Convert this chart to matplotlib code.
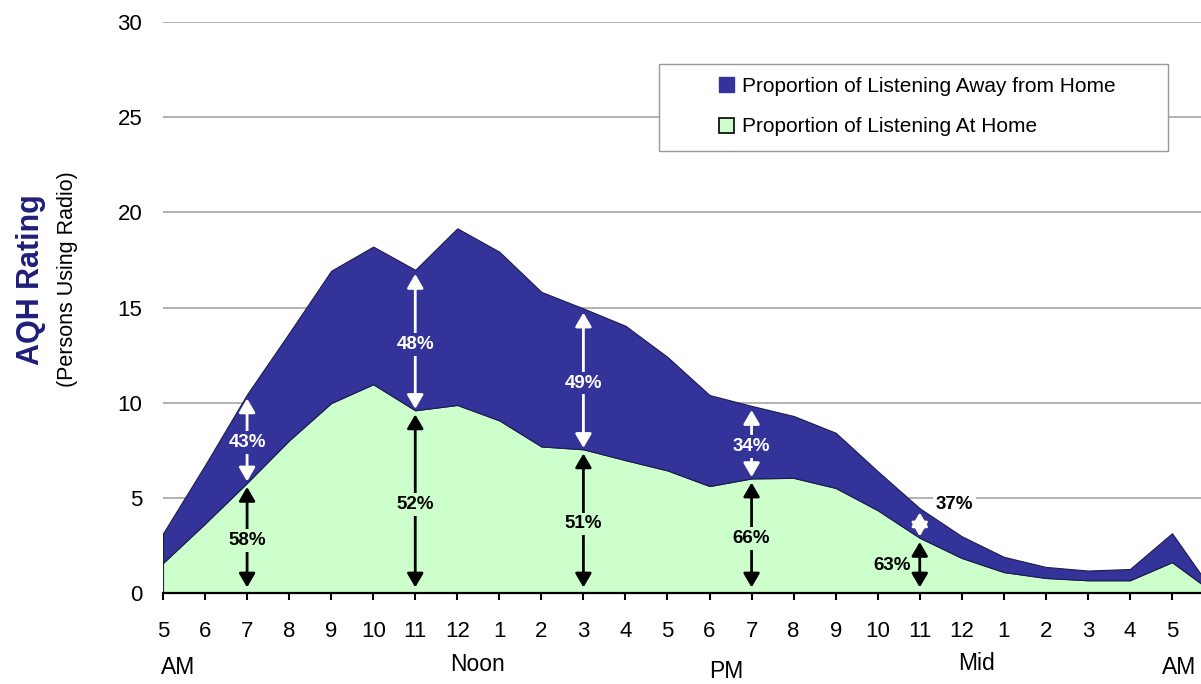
"""AQH rating by hour: listening at home vs away from home."""

import matplotlib
matplotlib.use("Agg")
import matplotlib.pyplot as plt
from matplotlib.patches import Patch, Rectangle
import numpy as np

plt.rcParams["font.family"] = ["Liberation Sans Narrow", "Liberation Sans", "DejaVu Sans"]

# hour slots from 5 AM through 5 AM next day (plus the trailing point)
hours = np.arange(26)
hour_labels = ["5", "6", "7", "8", "9", "10", "11", "12", "1", "2", "3", "4",
               "5", "6", "7", "8", "9", "10", "11", "12", "1", "2", "3", "4", "5"]
period_labels = ["AM", "Noon", "PM", "Mid", "AM"]
period_pos = [0.36, 7.47, 13.4, 19.36, 24.18]

at_home = [1.58, 3.65, 5.79, 8.02, 9.98, 10.97, 9.60, 9.88, 9.07, 7.70, 7.55, 6.98, 6.44,
           5.62, 6.02, 6.05, 5.52, 4.35, 2.90, 1.84, 1.10, 0.79, 0.67, 0.67, 1.62, 0.0]
away_from_home = [1.55, 3.07, 4.65, 5.64, 6.95, 7.23, 7.38, 9.28, 8.86, 8.12, 7.40, 7.06, 5.96,
                  4.78, 3.81, 3.25, 2.90, 2.05, 1.55, 1.14, 0.80, 0.58, 0.51, 0.59, 1.52, 0.0]

# annotated slots: 7 AM, 11 AM, 3 PM, 7 PM, 11 PM
arrow_slots = [2, 6, 10, 14, 18]
pct_away = [43, 48, 49, 34, 37]
pct_home = [58, 52, 51, 66, 63]

BLUE = "#333399"
GREEN = "#CCFFCC"

home = np.array(at_home)
total = home + np.array(away_from_home)

fig = plt.figure(figsize=(12.01, 6.84), dpi=100)
ax = fig.add_axes([163 / 1201, 91 / 684, 1038 / 1201, 571 / 684])

ax.stackplot(hours, at_home, away_from_home, colors=[GREEN, BLUE],
             edgecolor="#1c1c50", linewidth=0.8, zorder=2)

ax.set_xlim(0, 24.69)
ax.set_ylim(0, 30)
ax.set_xticks(np.arange(len(hour_labels)))
ax.set_xticklabels(hour_labels, fontsize=16)
ax.set_yticks(range(0, 31, 5))
ax.tick_params(axis="y", length=0, pad=15, labelsize=16)
ax.tick_params(axis="x", length=5, width=1.5, direction="out", pad=15)
ax.yaxis.grid(True, color="#a6a6a6", linewidth=1.2)
ax.set_axisbelow(True)
for side in ("top", "right", "left"):
    ax.spines[side].set_visible(False)
ax.spines["bottom"].set_linewidth(1.6)
ax.spines["bottom"].set_zorder(4)

trans = ax.get_xaxis_transform()
period_y = [-0.13, -0.126, -0.138, -0.124, -0.13]
for lab, xp, yp in zip(period_labels, period_pos, period_y):
    ax.text(xp, yp, lab, transform=trans, ha="center", va="center", fontsize=16.5)

# double-headed arrows with percentage labels
arrow_style = "<|-|>,head_length=0.6,head_width=0.35"
for i, (xi, pa, ph) in enumerate(zip(arrow_slots, pct_away, pct_home)):
    top, mid = total[xi], home[xi]
    ax.annotate("", xy=(xi, top), xytext=(xi, mid), zorder=5,
                arrowprops=dict(arrowstyle=arrow_style, color="white", lw=2,
                                shrinkA=1, shrinkB=3, mutation_scale=14))
    ax.annotate("", xy=(xi, mid), xytext=(xi, 0), zorder=5,
                arrowprops=dict(arrowstyle=arrow_style, color="black", lw=2,
                                shrinkA=4, shrinkB=3, mutation_scale=14))
    if i == len(arrow_slots) - 1:
        ax.annotate(f"{pa}%", xy=(xi, top), xytext=(25, 3), textcoords="offset points",
                    ha="center", va="center", fontsize=13.5, fontweight="bold", color="black",
                    bbox=dict(facecolor="white", edgecolor="none", pad=2), zorder=6)
        ax.annotate(f"{ph}%", xy=(xi, mid / 2), xytext=(-20, 0), textcoords="offset points",
                    ha="center", va="center", fontsize=13.5, fontweight="bold", color="black",
                    zorder=6)
    else:
        ax.annotate(f"{pa}%", xy=(xi, (top + mid) / 2), xytext=(0, -3),
                    textcoords="offset points", ha="center", va="center", fontsize=13.5,
                    fontweight="bold", color="white", zorder=6,
                    bbox=dict(facecolor=BLUE, edgecolor="none", pad=2))
        ax.annotate(f"{ph}%", xy=(xi, mid / 2), xytext=(0, -2),
                    textcoords="offset points", ha="center", va="center", fontsize=13.5,
                    fontweight="bold", color="black", zorder=6,
                    bbox=dict(facecolor=GREEN, edgecolor="none", pad=2))

# legend box
ax.add_patch(Rectangle((0.478, 0.774), 0.49, 0.152, transform=ax.transAxes,
                       facecolor="white", edgecolor="#999999", linewidth=1, zorder=7))
handles = [Patch(facecolor=BLUE, edgecolor=BLUE, label="Proportion of Listening Away from Home"),
           Patch(facecolor=GREEN, edgecolor="black", linewidth=1.2,
                 label="Proportion of Listening At Home")]
leg = ax.legend(handles=handles, loc="center left", bbox_to_anchor=(0.5356, 0.852),
                frameon=False, borderpad=0, borderaxespad=0, handlelength=0.72,
                handleheight=0.72, handletextpad=0.38, labelspacing=1.05,
                prop={"family": "Liberation Sans", "size": 15})
leg.set_zorder(8)

fig.text(31 / 1201, 1 - 280 / 684, "AQH Rating", rotation=90, ha="center", va="center",
         fontsize=22, fontweight="bold", color="#1f1f7a")
fig.text(67 / 1201, 1 - 279 / 684, "(Persons Using Radio)", rotation=90, ha="center",
         va="center", fontsize=15.5)

fig.savefig("out.png", dpi=100)
plt.close(fig)
